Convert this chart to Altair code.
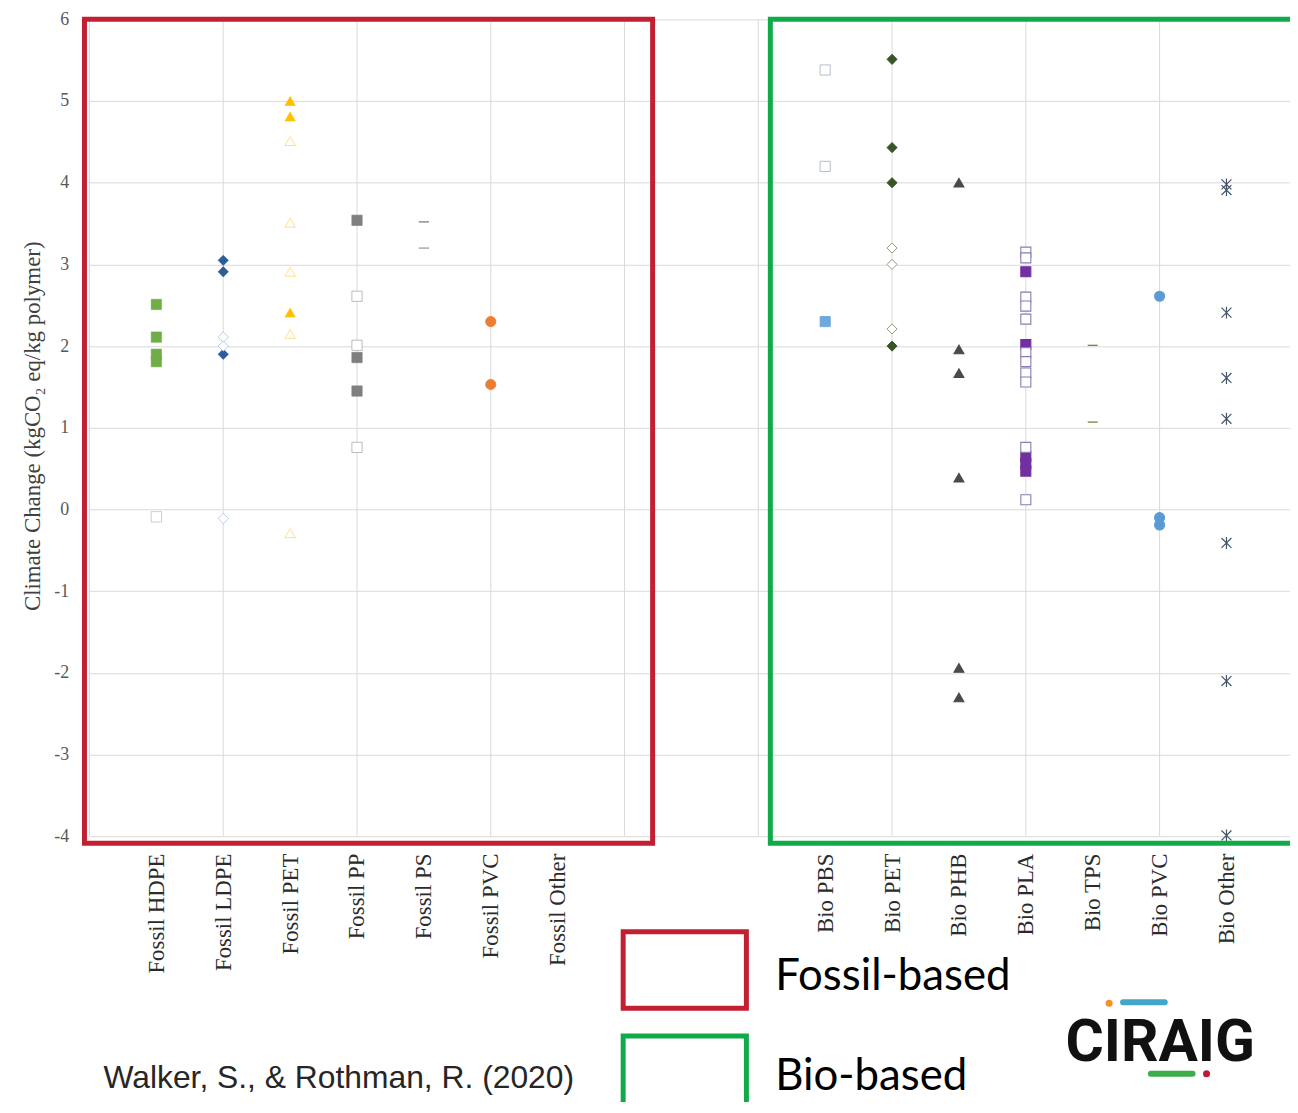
import json
import altair as alt
import pandas as pd

# ---------------- data ----------------
CATEGORIES = ["Fossil HDPE", "Fossil LDPE", "Fossil PET", "Fossil PP", "Fossil PS",
              "Fossil PVC", "Fossil Other",
              "Bio PBS", "Bio PET", "Bio PHB", "Bio PLA", "Bio TPS", "Bio PVC", "Bio Other"]
CAT_POS = [1, 2, 3, 4, 5, 6, 7, 11, 12, 13, 14, 15, 16, 17]

HDPE_FILLED = [2.51, 2.11, 1.90, 1.81]
HDPE_HOLLOW = [-0.09]
LDPE_FILLED = [3.05, 2.91, 1.90]
LDPE_HOLLOW = [2.11, 2.00, -0.11]
PET_FILLED = [5.00, 4.81, 2.41]
PET_HOLLOW = [4.51, 3.51, 2.91, 2.15, -0.29]
PP_FILLED = [3.54, 1.86, 1.45]
PP_HOLLOW = [2.61, 2.01, 0.76]
PS_A = [3.52]
PS_B = [3.20]
PVC_FOSSIL = [2.30, 1.53]
PBS_HOLLOW = [5.38, 4.20]
PBS_FILLED = [2.30]
BPET_FILLED = [5.51, 4.43, 4.00, 2.00]
BPET_HOLLOW = [3.20, 3.00, 2.21]
PHB = [4.00, 1.96, 1.67, 0.39, -1.94, -2.30]
PLA_FILLED = [2.91, 2.02, 0.65, 0.56, 0.47]
PLA_HOLLOW = [3.15, 3.08, 2.60, 2.49, 2.33, 1.92, 1.81, 1.67, 1.56, 0.76, 0.12]
TPS = [2.01, 1.07]
PVC_BIO = [2.61, -0.10, -0.19]
BIO_OTHER = [3.98, 3.91, 2.41, 1.61, 1.11, -0.41, -2.10, -3.99]

SERIES = [
    ("hdpe_f", 1, HDPE_FILLED), ("hdpe_h", 1, HDPE_HOLLOW),
    ("ldpe_f", 2, LDPE_FILLED), ("ldpe_h", 2, LDPE_HOLLOW),
    ("pet_f", 3, PET_FILLED), ("pet_h", 3, PET_HOLLOW),
    ("pp_f", 4, PP_FILLED), ("pp_h", 4, PP_HOLLOW),
    ("ps_a", 5, PS_A), ("ps_b", 5, PS_B),
    ("pvc_f", 6, PVC_FOSSIL),
    ("pbs_h", 11, PBS_HOLLOW), ("pbs_f", 11, PBS_FILLED),
    ("bpet_f", 12, BPET_FILLED), ("bpet_h", 12, BPET_HOLLOW),
    ("phb", 13, PHB),
    ("pla_f", 14, PLA_FILLED), ("pla_h", 14, PLA_HOLLOW),
    ("tps", 15, TPS),
    ("bpvc", 16, PVC_BIO),
    ("bother", 17, BIO_OTHER),
]

GRID_X = [0, 2, 4, 6, 8, 10, 12, 14, 16, 18]
Y_TICKS = [-4, -3, -2, -1, 0, 1, 2, 3, 4, 5, 6]

# frames drawn around the fossil / bio groups (data units)
FRAME_NAMES = ["fossil", "bio"]
FRAME_X0 = [-0.075, 10.18]
FRAME_X1 = [8.42, 18.6]
FRAME_Y0 = [6.0, 6.0]
FRAME_Y1 = [-4.085, -4.085]
FRAME_COLORS = ["#C22032", "#10AA48"]

LEGEND_TEXT = ["Fossil-based", "Bio-based"]
SOURCE_TEXT = ["Walker, S., & Rothman, R. (2020)"]
LOGO_TEXT = ["CIRAIG"]

# ---------------- styles ----------------
DASH = "M-1,0L1,0"
ASTER = "M-1,-1L1,1M-1,1L1,-1M0,-1.2L0,1.2"
STYLE = {
    "hdpe_f": ("square", "#70AD47", "#70AD47", 110, 0.5),
    "hdpe_h": ("square", "white", "#A5A5A5", 100, 1.2),
    "ldpe_f": ("diamond", "#2E5C9A", "#2E5C9A", 100, 0.5),
    "ldpe_h": ("diamond", "white", "#8EA9DB", 95, 1.2),
    "pet_f": ("triangle-up", "#FFC000", "#FFC000", 110, 0.5),
    "pet_h": ("triangle-up", "white", "#FFD24D", 105, 1.2),
    "pp_f": ("square", "#7F7F7F", "#7F7F7F", 105, 0.5),
    "pp_h": ("square", "white", "#A5A5A5", 100, 1.2),
    "ps_a": (DASH, "transparent", "#262626", 30, 2.6),
    "ps_b": (DASH, "transparent", "#6E5E55", 110, 2.6),
    "pvc_f": ("circle", "#ED7D31", "#ED7D31", 95, 0.5),
    "pbs_h": ("square", "white", "#A9B5C6", 100, 1.2),
    "pbs_f": ("square", "#6FA8DC", "#6FA8DC", 100, 0.5),
    "bpet_f": ("diamond", "#375623", "#375623", 100, 0.5),
    "bpet_h": ("diamond", "white", "#8A9A7A", 95, 1.2),
    "phb": ("triangle-up", "#4A4A4A", "#4A4A4A", 110, 0.5),
    "pla_f": ("square", "#7030A0", "#7030A0", 105, 0.5),
    "pla_h": ("square", "white", "#8B7BB0", 100, 1.2),
    "tps": (DASH, "transparent", "#6B6B20", 30, 2.4),
    "bpvc": ("circle", "#5B9BD5", "#5B9BD5", 95, 0.5),
    "bother": (ASTER, "transparent", "#44546A", 70, 1.5),
}

rows = []
for name, xpos, vals in SERIES:
    for v in vals:
        rows.append({"series": name, "x": xpos, "value": v})
points_df = pd.DataFrame(rows)

names = [s[0] for s in SERIES]
shape_range = [STYLE[n][0] for n in names]
fill_range = [STYLE[n][1] for n in names]
stroke_range = [STYLE[n][2] for n in names]
size_range = [STYLE[n][3] for n in names]
sw_range = [STYLE[n][4] for n in names]

PLOT_W = 1208
PLOT_H = 822

xscale = alt.Scale(domain=[0, 17.95], nice=False, zero=False)
yscale = alt.Scale(domain=[-4, 6], nice=False, zero=False)

label_array = [""] * 19
for pos, lab in zip(CAT_POS, CATEGORIES):
    label_array[pos] = lab
label_expr = json.dumps(label_array).replace('"', "'") + "[datum.value]"

SERIF = "Liberation Serif"

X_AXIS = alt.Axis(
    values=CAT_POS, labelExpr=label_expr, title=None, grid=False,
    ticks=False, domain=False, labelAngle=270, labelAlign="right",
    labelBaseline="middle", labelPadding=17, labelFont=SERIF,
    labelFontSize=23, labelColor="#2B2B2B", labelOverlap=False,
    labelBound=False, labelFlush=False,
)
Y_AXIS = alt.Axis(
    values=Y_TICKS, labelExpr="'' + datum.value", grid=True,
    gridColor="#D9D9D9", gridWidth=1, ticks=False, domain=False,
    labelPadding=21, labelFont=SERIF, labelFontSize=18,
    labelColor="#595959",
    title="Climate Change (kgCO\u2082 eq/kg polymer)",
    titleFont=SERIF, titleFontSize=23, titleFontWeight="normal",
    titleColor="#404040", titleAngle=270, titleX=-57, titleY=409,
    titleAlign="center", titleBaseline="middle",
)

grid = alt.Chart(pd.DataFrame({"gx": GRID_X})).mark_rule(
    color="#D9D9D9", strokeWidth=1
).encode(
    x=alt.X("gx:Q", scale=xscale, axis=X_AXIS),
    y=alt.value(0),
    y2=alt.value(PLOT_H),
)

points = alt.Chart(points_df).mark_point(filled=True, opacity=1).encode(
    x=alt.X("x:Q", scale=xscale, axis=X_AXIS),
    y=alt.Y("value:Q", scale=yscale, axis=Y_AXIS),
    shape=alt.Shape("series:N", scale=alt.Scale(domain=names, range=shape_range), legend=None),
    fill=alt.Fill("series:N", scale=alt.Scale(domain=names, range=fill_range), legend=None),
    stroke=alt.Stroke("series:N", scale=alt.Scale(domain=names, range=stroke_range), legend=None),
    size=alt.Size("series:N", scale=alt.Scale(domain=names, range=size_range), legend=None),
    strokeWidth=alt.StrokeWidth("series:N", scale=alt.Scale(domain=names, range=sw_range), legend=None),
)

frames_df = pd.DataFrame({
    "name": FRAME_NAMES, "x0": FRAME_X0, "x1": FRAME_X1,
    "y0": FRAME_Y0, "y1": FRAME_Y1, "c": FRAME_COLORS,
})
frames = alt.Chart(frames_df).mark_rect(fill="transparent", strokeWidth=5).encode(
    x=alt.X("x0:Q", scale=xscale, axis=X_AXIS),
    x2="x1:Q",
    y=alt.Y("y0:Q", scale=yscale, axis=Y_AXIS),
    y2="y1:Q",
    stroke=alt.Stroke("c:N", scale=None),
)

legend_boxes = alt.Chart(pd.DataFrame({"c": FRAME_COLORS, "k": FRAME_NAMES})).mark_rect(
    fill="transparent", strokeWidth=5
).encode(
    x=alt.value(537), x2=alt.value(661),
    y=alt.YValue(alt.ExprRef("datum.k == 'fossil' ? 918 : 1023")),
    y2=alt.YValue(alt.ExprRef("datum.k == 'fossil' ? 995 : 1110")),
    stroke=alt.Stroke("c:N", scale=None),
)

legend_text = alt.Chart(pd.DataFrame({"t": LEGEND_TEXT})).mark_text(
    align="left", baseline="alphabetic", font="Lato", fontSize=44, color="#000000"
).encode(
    text="t:N",
    x=alt.value(690),
    y=alt.YValue(alt.ExprRef("datum.t == 'Fossil-based' ? 977 : 1077")),
)

source_text = alt.Chart(pd.DataFrame({"t": SOURCE_TEXT})).mark_text(
    align="left", baseline="alphabetic", font="Liberation Sans", fontSize=32, color="#262626"
).encode(text="t:N", x=alt.value(14), y=alt.value(1075))

logo_text = alt.Chart(pd.DataFrame({"t": LOGO_TEXT})).mark_text(
    align="left", baseline="alphabetic", font="Roboto", fontSize=59,
    fontWeight="bold", color="#111111"
).encode(text="t:N", x=alt.value(982), y=alt.value(1048))

logo_bars = alt.Chart(pd.DataFrame({"c": ["#41A7CA", "#3BAE49"], "k": ["top", "bottom"]})).mark_rule(
    strokeWidth=6, strokeCap="round"
).encode(
    x=alt.XValue(alt.ExprRef("datum.k == 'top' ? 1040 : 1068")),
    x2=alt.X2Value(alt.ExprRef("datum.k == 'top' ? 1082 : 1110")),
    y=alt.YValue(alt.ExprRef("datum.k == 'top' ? 989 : 1061")),
    color=alt.Color("c:N", scale=None),
)

logo_dots = alt.Chart(pd.DataFrame({"c": ["#F39222", "#C1192F"], "k": ["top", "bottom"]})).mark_circle(
    size=50, opacity=1
).encode(
    x=alt.XValue(alt.ExprRef("datum.k == 'top' ? 1026 : 1124")),
    y=alt.YValue(alt.ExprRef("datum.k == 'top' ? 990 : 1061")),
    color=alt.Color("c:N", scale=None),
)

chart = alt.layer(
    grid, points, frames, legend_boxes, legend_text, source_text,
    logo_text, logo_bars, logo_dots
).properties(
    width=PLOT_W, height=PLOT_H,
    padding={"left": 82, "top": 8, "right": 0, "bottom": 264},
    autosize=alt.AutoSizeParams(type="none"),
    background="white",
).configure_view(stroke=None)

chart.save("out.html", embed_options={"renderer": "svg", "actions": False})
